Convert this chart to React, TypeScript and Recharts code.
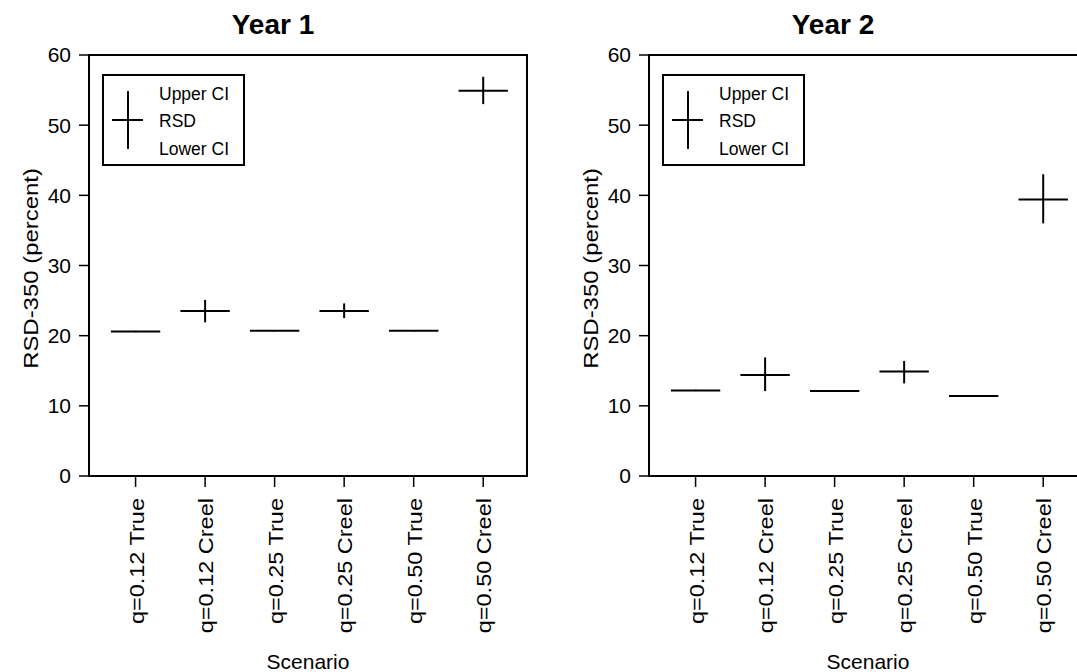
import React from 'react';
import { ComposedChart, Scatter, ErrorBar, XAxis, YAxis, ReferenceArea, Legend } from 'recharts';

const FONT = '"Liberation Sans", Arial, Helvetica, sans-serif';

const categories = ['q=0.12 True', 'q=0.12 Creel', 'q=0.25 True', 'q=0.25 Creel', 'q=0.50 True', 'q=0.50 Creel'];
const xPositions = [1, 2, 3, 4, 5, 6];
const yTicks = [0, 10, 20, 30, 40, 50, 60];

const year1Rsd = [20.6, 23.5, 20.7, 23.5, 20.7, 54.9];
const year1Upper = [20.7, 25.1, 20.8, 24.6, 20.8, 56.9];
const year1Lower = [20.5, 21.9, 20.6, 22.5, 20.6, 53.0];

const year2Rsd = [12.2, 14.4, 12.1, 14.9, 11.4, 39.4];
const year2Upper = [12.3, 16.9, 12.2, 16.4, 11.5, 43.0];
const year2Lower = [12.1, 12.1, 12.0, 13.2, 11.3, 36.0];

const HALF_WIDTH = 0.355;
const X_DOMAIN: [number, number] = [0.33, 6.63];
const Y_DOMAIN: [number, number] = [0, 60];

function buildRows(rsd: number[], upper: number[], lower: number[]) {
  return categories.map((name, i) => ({
    x: xPositions[i],
    name,
    rsd: rsd[i],
    ci: [rsd[i] - lower[i], upper[i] - rsd[i]],
    hw: HALF_WIDTH,
  }));
}

const XTick = (props: any) => {
  const { x, y, payload } = props;
  const label = categories[Math.round(payload.value) - 1] ?? '';
  return (
    <text
      x={0}
      y={0}
      transform={`translate(${x + 1}, ${y}) rotate(-90) scale(1.12, 1)`}
      textAnchor="end"
      dominantBaseline="central"
      fontSize={21}
      fontFamily={FONT}
      fill="#000"
    >
      {label}
    </text>
  );
};

const YLabel = (props: any) => {
  const { viewBox } = props;
  const cx = viewBox.x + 31;
  const cy = viewBox.y + viewBox.height / 2 + 3;
  return (
    <text
      x={0}
      y={0}
      transform={`translate(${cx}, ${cy}) rotate(-90) scale(1.14, 1)`}
      textAnchor="middle"
      dominantBaseline="central"
      fontSize={21}
      fontFamily={FONT}
      fill="#000"
    >
      RSD-350 (percent)
    </text>
  );
};

const XLabel = (props: any) => {
  const { viewBox } = props;
  const cx = viewBox.x + viewBox.width / 2;
  const cy = viewBox.y + 185;
  return (
    <text x={cx} y={cy} textAnchor="middle" dominantBaseline="central" fontSize={21} fontFamily={FONT} fill="#000">
      Scenario
    </text>
  );
};

const LegendBox = () => (
  <svg width={143} height={92} style={{ display: 'block' }}>
    <rect x={1} y={1} width={141} height={90} fill="#fff" stroke="#000" strokeWidth={2} />
    <line x1={26} y1={17} x2={26} y2={75} stroke="#000" strokeWidth={2} />
    <line x1={10} y1={46} x2={41} y2={46} stroke="#000" strokeWidth={2} />
    <text x={57} y={20} dominantBaseline="central" fontSize={17.5} fontFamily={FONT} fill="#000">Upper CI</text>
    <text x={57} y={47} dominantBaseline="central" fontSize={17.5} fontFamily={FONT} fill="#000">RSD</text>
    <text x={57} y={75} dominantBaseline="central" fontSize={17.5} fontFamily={FONT} fill="#000">Lower CI</text>
  </svg>
);

const noPoint = () => <g />;

function Panel({ rows, title }: { rows: any[]; title: string }) {
  return (
    <div style={{ position: 'relative', width: 540, height: 672 }}>
      <div
        style={{
          position: 'absolute',
          left: 123,
          top: 7,
          width: 300,
          textAlign: 'center',
          fontFamily: FONT,
          fontWeight: 'bold',
          fontSize: 28,
          lineHeight: '36px',
          color: '#000',
        }}
      >
        {title}
      </div>
      <ComposedChart width={540} height={672} data={rows} margin={{ top: 55, right: 13, bottom: 0, left: 0 }}>
        <XAxis
          dataKey="x"
          type="number"
          domain={X_DOMAIN}
          ticks={xPositions}
          allowDataOverflow
          axisLine={false}
          tickLine={{ stroke: '#000', strokeWidth: 1.5 }}
          tickSize={11}
          tickMargin={11}
          tick={<XTick />}
          height={196}
          interval={0}
          label={<XLabel />}
        />
        <YAxis
          type="number"
          domain={Y_DOMAIN}
          ticks={yTicks}
          allowDataOverflow
          axisLine={false}
          tickLine={{ stroke: '#000', strokeWidth: 1.5 }}
          tickSize={10}
          tickMargin={8}
          width={89}
          tick={{ fontSize: 21, fontFamily: FONT, fill: '#000' }}
          label={<YLabel />}
        />
        <ReferenceArea
          x1={X_DOMAIN[0]}
          x2={X_DOMAIN[1]}
          y1={Y_DOMAIN[0]}
          y2={Y_DOMAIN[1]}
          fill="none"
          fillOpacity={0}
          stroke="#000"
          strokeWidth={2}
          ifOverflow="visible"
        />
        <Scatter dataKey="rsd" shape={noPoint} isAnimationActive={false}>
          <ErrorBar dataKey="hw" direction="x" width={0} stroke="#000" strokeWidth={2} isAnimationActive={false} />
          <ErrorBar dataKey="ci" direction="y" width={0} stroke="#000" strokeWidth={2} isAnimationActive={false} />
        </Scatter>
        <Legend
          layout="horizontal"
          verticalAlign="middle"
          align="center"
          content={<LegendBox />}
          wrapperStyle={{ position: 'absolute', left: 102, top: 74, width: 143, height: 92 }}
        />
      </ComposedChart>
    </div>
  );
}

export default function App() {
  const rows1 = buildRows(year1Rsd, year1Upper, year1Lower);
  const rows2 = buildRows(year2Rsd, year2Upper, year2Lower);
  return (
    <div style={{ position: 'absolute', left: 0, top: 0, width: 1077, height: 672, background: '#fff', overflow: 'hidden' }}>
      <div style={{ position: 'absolute', left: 0, top: 0 }}>
        <Panel rows={rows1} title="Year 1" />
      </div>
      <div style={{ position: 'absolute', left: 560, top: 0, width: 517, height: 672, overflow: 'hidden' }}>
        <Panel rows={rows2} title="Year 2" />
      </div>
    </div>
  );
}
